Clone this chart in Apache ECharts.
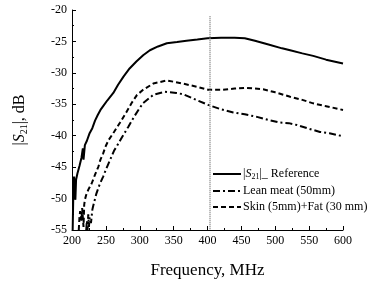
<!DOCTYPE html>
<html>
<head>
<meta charset="utf-8">
<script src="https://cdn.jsdelivr.net/npm/echarts@6/dist/echarts.min.js"></script>
<style>
  html, body { margin: 0; padding: 0; background: #fff; }
  #chart { width: 370px; height: 281px; }
</style>
</head>
<body>
<div id="chart"></div>
<script>
// 频率 (MHz) 与 |S21| (dB) 数据
const freqRef = [201, 202, 203, 204, 205, 206, 208, 211, 214, 216, 217, 219, 222, 226, 230, 234, 238, 242, 246, 252, 261, 268, 276, 285, 295, 305, 315, 327, 340, 355, 369, 385, 400, 420, 440, 455, 470, 490, 510, 522, 540, 556, 575, 600];
const s21Ref = [-55, -49, -46.5, -48, -50.2, -47, -46, -44.8, -43.5, -42.0, -43.8, -41.5, -40.8, -39.6, -38.8, -37.6, -36.7, -35.9, -35.3, -34.4, -33.2, -31.9, -30.6, -29.3, -28.2, -27.2, -26.4, -25.8, -25.3, -25.1, -24.9, -24.7, -24.5, -24.4, -24.4, -24.5, -24.9, -25.5, -26.1, -26.4, -26.9, -27.3, -27.9, -28.5];

const freqLean = [221, 222, 223, 224, 225, 226, 228, 230, 231, 236, 241, 246, 250, 254, 258, 262, 266, 274, 283, 291, 298, 305, 320, 337, 354, 364, 379, 401, 420, 438, 455, 473, 490, 507, 520, 532, 550, 566, 580, 600];
const s21Lean = [-55, -53.5, -55, -52.5, -54.5, -53.0, -53.9, -51.8, -51.3, -49.2, -47.7, -46.5, -45.4, -44.4, -43.4, -42.4, -41.7, -40.2, -38.6, -37.1, -35.9, -34.8, -33.5, -33.0, -33.2, -33.4, -34.1, -35.1, -35.8, -36.3, -36.6, -37.0, -37.5, -37.9, -38.0, -38.3, -38.9, -39.4, -39.6, -40.1];

const freqSkin = [210, 211, 212, 214, 215, 217, 218, 219, 221, 224, 229, 234, 239, 242, 246, 250, 254, 262, 271, 280, 288, 296, 305, 320, 340, 359, 384, 401, 420, 440, 458, 482, 500, 522, 540, 556, 575, 600];
const s21Skin = [-55, -53, -52.0, -53.5, -51.5, -54.5, -51, -50.2, -49.4, -48.6, -47.6, -46.2, -44.9, -43.8, -42.8, -41.6, -40.7, -39.4, -37.9, -36.3, -34.8, -33.5, -32.7, -31.7, -31.2, -31.6, -32.2, -32.7, -32.7, -32.5, -32.4, -32.6, -33.1, -33.8, -34.3, -34.85, -35.3, -35.9];

const markerFreq = 403;

const seriesNames = ['ref', 'Lean meat (50mm)', 'Skin (5mm)+Fat (30 mm)'];

const font = 'Liberation Serif';

function pairs(xs, ys) {
  return xs.map((x, i) => [x, ys[i]]);
}

const chart = echarts.init(document.getElementById('chart'));

const option = {
  animation: false,
  color: ['#000', '#000', '#000'],
  grid: { left: 72, right: 27, top: 10, bottom: 51, outerBoundsMode: 'none' },
  legend: {
    left: 207,
    top: 163,
    orient: 'vertical',
    itemWidth: 28,
    itemHeight: 10,
    itemGap: 4,
    data: seriesNames,
    itemStyle: { opacity: 0 },
    formatter: function (name) {
      if (name === 'ref') return '{n||}{i|S}{sub|21}{n||_ Reference}';
      return name;
    },
    textStyle: {
      fontFamily: font,
      fontSize: 12,
      color: '#000',
      padding: [0, 0, 0, -3],
      rich: {
        n: { fontFamily: font, fontSize: 12, color: '#000' },
        i: { fontFamily: font, fontSize: 12, fontStyle: 'italic', color: '#000' },
        sub: { fontFamily: font, fontSize: 8, color: '#000', padding: [6, 0, 0, 0] }
      }
    }
  },
  xAxis: {
    type: 'value',
    min: 200,
    max: 600,
    interval: 50,
    name: 'Frequency, MHz',
    nameLocation: 'middle',
    nameGap: 32,
    nameTextStyle: { fontFamily: font, fontSize: 17, color: '#000' },
    axisLine: { lineStyle: { color: '#000', width: 1 } },
    axisTick: { inside: true, length: 4, lineStyle: { color: '#000' } },
    minorTick: { show: true, splitNumber: 2, length: 2, lineStyle: { color: '#000' } },
    axisLabel: { fontFamily: font, fontSize: 12, color: '#000', margin: 5 },
    splitLine: { show: false }
  },
  yAxis: {
    type: 'value',
    min: -55,
    max: -20,
    interval: 5,
    name: '{n||}{i|S}{sub|21}{n||, dB}',
    nameLocation: 'middle',
    nameGap: 43,
    nameTextStyle: {
      fontFamily: font,
      fontSize: 16,
      color: '#000',
      rich: {
        n: { fontFamily: font, fontSize: 16, color: '#000' },
        i: { fontFamily: font, fontSize: 16, fontStyle: 'italic', color: '#000' },
        sub: { fontFamily: font, fontSize: 10, color: '#000', padding: [9, 0, 0, 0] }
      }
    },
    axisLine: { show: true, lineStyle: { color: '#000', width: 1 } },
    axisTick: { show: true, inside: true, length: 4, lineStyle: { color: '#000' } },
    minorTick: { show: true, splitNumber: 2, length: 2, lineStyle: { color: '#000' } },
    axisLabel: { fontFamily: font, fontSize: 12, color: '#000', margin: 5 },
    splitLine: { show: false }
  },
  series: [
    {
      name: seriesNames[0],
      type: 'line',
      symbol: 'none',
      data: pairs(freqRef, s21Ref),
      lineStyle: { color: '#000', width: 2, type: 'solid' },
      markLine: {
        silent: true,
        symbol: 'none',
        label: { show: false },
        lineStyle: { color: '#888', width: 1.5, type: [1, 1] },
        data: [[{ coord: [markerFreq, -21] }, { coord: [markerFreq, -55] }]]
      }
    },
    {
      name: seriesNames[1],
      type: 'line',
      symbol: 'none',
      data: pairs(freqLean, s21Lean),
      lineStyle: { color: '#000', width: 2, type: [7, 3, 2, 3] }
    },
    {
      name: seriesNames[2],
      type: 'line',
      symbol: 'none',
      data: pairs(freqSkin, s21Skin),
      lineStyle: { color: '#000', width: 2, type: [5, 3] }
    }
  ]
};

chart.setOption(option);
</script>
</body>
</html>
